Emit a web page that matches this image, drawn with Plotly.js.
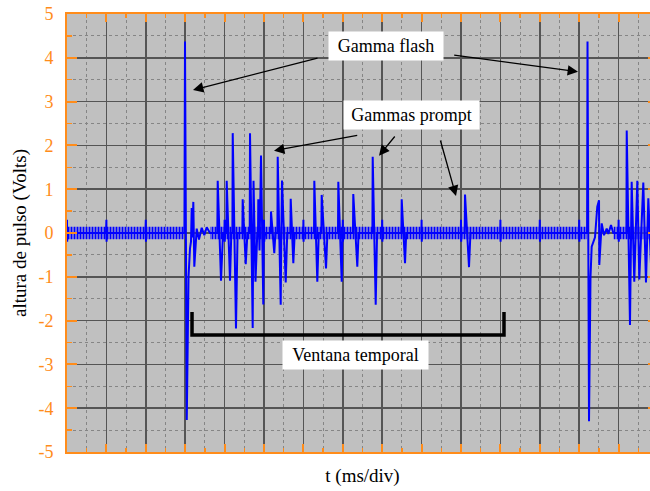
<!DOCTYPE html>
<html>
<head>
<meta charset="utf-8">
<script src="https://cdn.plot.ly/plotly-3.0.1.min.js"></script>
<style>
html,body{margin:0;padding:0;overflow:hidden;background:#fff;}
#chart{width:659px;height:491px;}
</style>
</head>
<body>
<div id="chart"></div>
<script>
// time in divisions (ms/div), pulse height in volts
const t = [
 0.000, 0.004, 0.015,
 0.990, 1.000, 1.004, 1.015,
 1.990, 2.000, 2.004, 2.015,
 2.980, 2.995, 3.040, 3.084, 3.122, 3.147, 3.165, 3.180, 3.206, 3.231, 3.292, 3.350, 3.419, 3.485, 3.546, 3.629,
 3.815, 3.825, 3.909, 3.960,
 3.995, 4.000, 4.004, 4.015,
 4.045, 4.053, 4.137, 4.170,
 4.198, 4.206, 4.289, 4.330,
 4.450, 4.459, 4.536, 4.580,
 4.637, 4.645, 4.713, 4.734, 4.784, 4.830,
 4.848, 4.855, 4.886, 4.924, 4.982, 5.000, 5.004, 5.030,
 5.170, 5.178, 5.261, 5.290,
 5.340, 5.348, 5.424, 5.440, 5.457, 5.551, 5.590,
 5.670, 5.678, 5.744, 5.780,
 5.995, 6.000, 6.004, 6.015,
 6.270, 6.277, 6.353, 6.390,
 6.456, 6.464, 6.574, 6.610,
 6.878, 6.886, 6.972, 7.000, 7.004, 7.020,
 7.258, 7.266, 7.368, 7.400,
 7.751, 7.759, 7.835, 7.870,
 7.995, 8.000, 8.004, 8.015,
 8.487, 8.495, 8.579, 8.610,
 8.995, 9.000, 9.004, 9.015,
 9.995, 10.000, 10.004, 10.015,
 10.094, 10.102, 10.203, 10.240,
 10.995, 11.000, 11.004, 11.015,
 11.995, 12.000, 12.004, 12.015,
 12.995, 13.000, 13.004, 13.015,
 13.200, 13.211, 13.249, 13.287, 13.317, 13.401, 13.459, 13.503, 13.510, 13.571, 13.629, 13.698, 13.739, 13.807, 13.865,
 13.995, 14.000, 14.004, 14.015,
 14.198, 14.206, 14.289, 14.332, 14.398, 14.475, 14.525, 14.627, 14.695, 14.754, 14.822, 14.900
];
const volts = [
 0.30, -0.20, 0,
 0, 0.30, -0.20, 0,
 0, 0.30, -0.20, 0,
 0, 4.37, -4.27, -1.00, -0.35, -0.20, 0.57, -0.10, 0.71, -0.77, 0.10, -0.15, 0.12, -0.05, 0.13, 0,
 0, 1.19, -1.09, 0,
 0, 0.30, -0.20, 0,
 0, 1.19, -1.09, 0,
 0, 2.28, -2.18, 0,
 0, 0.77, -0.71, 0,
 0, 2.28, -2.17, 1.19, -1.11, 0,
 0, 0.77, -0.40, 1.77, -1.63, 0.30, -0.20, 0,
 0, 0.49, -0.46, 0,
 0, 1.74, -1.64, 0, 1.20, -1.13, 0,
 0, 0.78, -0.69, 0,
 0, 0.30, -0.20, 0,
 0, 1.19, -1.11, 0,
 0, 0.87, -0.81, 0,
 0, 1.17, -1.11, 0.30, -0.20, 0,
 0, 0.89, -0.77, 0,
 0, 1.74, -1.64, 0,
 0, 0.30, -0.20, 0,
 0, 0.77, -0.69, 0,
 0, 0.30, -0.20, 0,
 0, 0.30, -0.20, 0,
 0, 0.88, -0.78, 0,
 0, 0.30, -0.20, 0,
 0, 0.30, -0.20, 0,
 0, 0.30, -0.20, 0,
 0, 4.37, -4.30, -1.00, -0.31, -0.10, 0.60, 0.75, -0.73, 0.22, -0.05, 0.10, -0.02, 0.18, 0,
 0, 0.30, -0.20, 0,
 0, 2.34, -2.10, 1.17, -1.11, 1.19, -1.06, 1.15, -1.13, 0.79, -0.70, 0
];
// baseline noise band: start/end of each noisy segment (divisions) and half height (V)
const bandStart = [0.0, 3.63, 13.87];
const bandEnd = [2.98, 13.20, 15.0];
const bandHalf = 0.14;

const yTicks = [-5, -4, -3, -2, -1, 0, 1, 2, 3, 4, 5];
const labelFlash = "Gamma flash";
const labelPrompt = "Gammas prompt";
const labelWindow = "Ventana temporal";

const bx = [], by = [];
for (let i = 0; i < bandStart.length; i++) {
  bx.push(bandStart[i], bandEnd[i], bandEnd[i], bandStart[i], bandStart[i], null);
  by.push(bandHalf, bandHalf, -bandHalf, -bandHalf, bandHalf, null);
}

const serif = "'Liberation Serif', 'DejaVu Serif', serif";
const orange = "#ff8c1a";

const traces = [
  {x: bx, y: by, type: "scatter", mode: "lines", fill: "toself",
   line: {width: 0, color: "rgba(0,0,255,0)"},
   fillcolor: "rgba(60,60,255,0.5)",
   fillpattern: {shape: "|", size: 3, solidity: 0.45, fgcolor: "#0000ff", bgcolor: "rgba(70,70,240,0.55)", fgopacity: 1},
   hoverinfo: "skip", showlegend: false},
  {x: t, y: volts, type: "scatter", mode: "lines",
   line: {color: "#0000ff", width: 2}, showlegend: false}
];

function arrow(x0, y0, x1, y1) {
  return {x: x1, y: y1, ax: x0, ay: y0, xref: "x", yref: "y", axref: "x", ayref: "y",
          text: "", showarrow: true, arrowhead: 2, arrowsize: 1.6, arrowwidth: 1.3,
          arrowcolor: "#000", standoff: 0, startstandoff: 0};
}
function box(x, y, txt, w) {
  return {x: x, y: y, xref: "x", yref: "y", text: txt, showarrow: false,
          bgcolor: "#ffffff", width: w, height: 24, borderpad: 2,
          font: {family: serif, size: 18, color: "#000"}};
}

const layout = {
  width: 659, height: 491,
  margin: {l: 67, r: 1, t: 14, b: 39},
  paper_bgcolor: "#ffffff",
  plot_bgcolor: "#c0c0c0",
  font: {family: serif},
  xaxis: {
    range: [0, 15], dtick: 1, tick0: 0,
    showticklabels: false,
    ticks: "inside", ticklen: 8, tickwidth: 2, tickcolor: orange,
    showline: true, linecolor: orange, linewidth: 2, mirror: "ticks",
    showgrid: true, gridcolor: "#555555", gridwidth: 1.5, zeroline: false,
    minor: {dtick: 0.5, showgrid: true, gridcolor: "#858585", griddash: "dot", gridwidth: 1,
            ticks: "inside", ticklen: 4, tickcolor: orange, tickwidth: 1.5},
    title: {text: "t (ms/div)", font: {family: serif, size: 19, color: "#000"}, standoff: 16}
  },
  yaxis: {
    range: [-5, 5], tickvals: yTicks, ticktext: yTicks.map(String),
    ticks: "inside", ticklen: 10, tickwidth: 2, tickcolor: orange,
    showline: true, linecolor: orange, linewidth: 2, mirror: "ticks",
    tickfont: {family: serif, size: 18, color: orange},
    ticklabelstandoff: 8,
    showgrid: true, gridcolor: "#555555", gridwidth: 1.5, zeroline: false,
    minor: {dtick: 0.5, showgrid: true, gridcolor: "#858585", griddash: "dot", gridwidth: 1,
            ticks: "inside", ticklen: 5, tickcolor: orange, tickwidth: 1.5},
    title: {text: "altura de pulso (Volts)", font: {family: serif, size: 19, color: "#000"}, standoff: 7}
  },
  annotations: [
    box(8.096, 4.269, labelFlash, 110),
    box(8.739, 2.687, labelPrompt, 131),
    box(7.322, -2.774, labelWindow, 141),
    arrow(6.396, 4.002, 3.198, 3.265),
    arrow(9.789, 4.064, 12.970, 3.683),
    arrow(7.404, 2.237, 5.254, 1.879),
    arrow(8.350, 2.237, 7.919, 1.765),
    arrow(9.467, 2.146, 9.873, 0.845)
  ],
  shapes: [
    {type: "path", xref: "x", yref: "y",
     path: "M 3.173 -1.804 L 3.173 -2.329 L 11.091 -2.329 L 11.091 -1.804",
     line: {color: "#000", width: 3.5}}
  ]
};

Plotly.newPlot("chart", traces, layout, {displayModeBar: false, staticPlot: true});
</script>
</body>
</html>
